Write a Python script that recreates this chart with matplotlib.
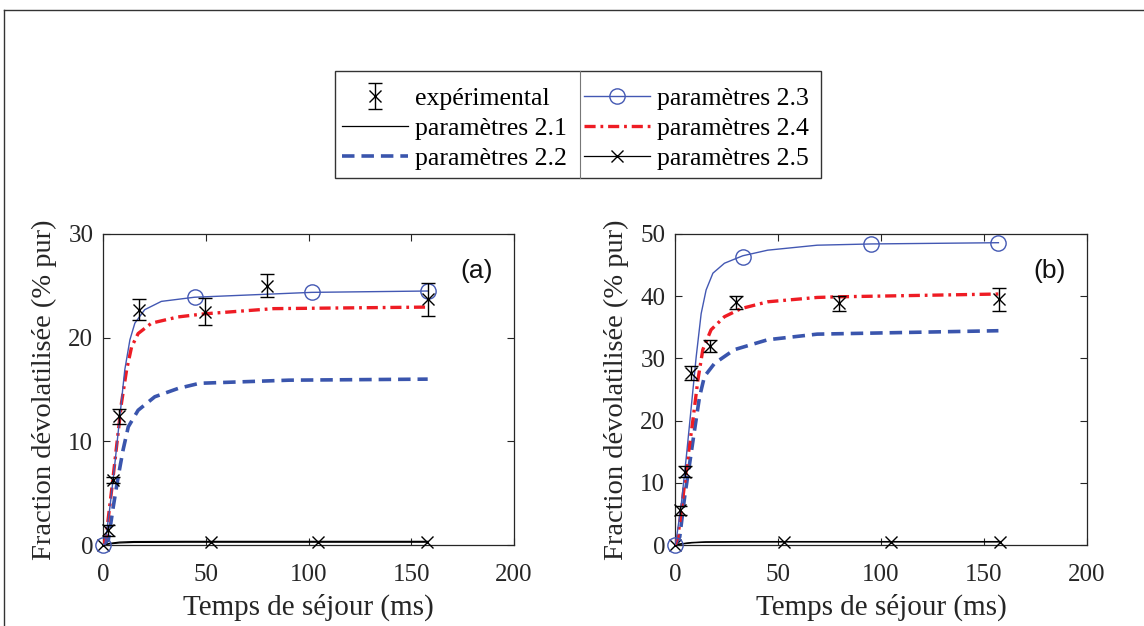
import matplotlib
matplotlib.use("Agg")
import matplotlib.pyplot as plt
from matplotlib.lines import Line2D
from matplotlib.patches import Rectangle

plt.rcParams['font.family'] = ['Liberation Serif', 'DejaVu Serif']
plt.rcParams['lines.scale_dashes'] = False

W, H = 1144, 626

# ---------------- data : panel (a) ----------------
a_exp_t = [2.6, 5.0, 7.9, 17.6, 49.4, 79.7, 158.3]
a_exp_y = [1.4, 6.3, 12.4, 22.7, 22.5, 25.0, 23.7]
a_exp_e = [0.5, 0.3, 0.7, 1.0, 1.3, 1.1, 1.6]

a21_t = [0, 3, 8, 15, 40, 100, 158]
a21_y = [0, 0.15, 0.28, 0.33, 0.35, 0.35, 0.35]

a22_t = [0, 2.6, 5.0, 7.4, 9.8, 12.3, 17.1, 25.2, 36.5, 47, 90.5, 158]
a22_y = [0, 0.5, 3.7, 6.6, 9.2, 11.4, 13.0, 14.3, 15.1, 15.6, 15.9, 16.0]

a23_t = [0, 1, 3.4, 5.8, 8.2, 10.6, 13.1, 15.5, 20.3, 28.4, 44.5, 101.5, 158]
a23_y = [0, 0.16, 3.7, 7.9, 12.4, 16.9, 19.8, 21.4, 22.7, 23.5, 23.9, 24.37, 24.5]
a23_mt = [0, 45, 101.5, 158]
a23_my = [0, 23.95, 24.37, 24.5]

a24_t = [0, 1.5, 4.2, 6.6, 9.0, 11.5, 13.9, 17.1, 23.6, 36.5, 49.4, 83, 158]
a24_y = [0, 0.8, 5.3, 9.5, 13.7, 16.9, 19.1, 20.4, 21.4, 22.0, 22.3, 22.8, 22.95]

a25_t = [0, 3, 8, 15, 40, 100, 158]
a25_y = [0, 0.1, 0.2, 0.25, 0.27, 0.27, 0.27]
a25_mt = [0, 52.6, 104.6, 157.8]
a25_my = [0, 0.27, 0.27, 0.27]

# ---------------- data : panel (b) ----------------
b_exp_t = [2.4, 4.8, 8.0, 17.2, 29.8, 79.4, 157.3]
b_exp_y = [5.6, 11.8, 27.6, 32.0, 39.0, 38.9, 39.5]
b_exp_e = [0.7, 0.9, 1.1, 0.9, 1.0, 1.2, 1.85]

b21_t = [0, 3, 8, 15, 30, 60, 100, 158]
b21_y = [0, 0.2, 0.4, 0.5, 0.55, 0.55, 0.55, 0.55]

b22_t = [0, 2.3, 4.7, 7.1, 9.5, 11.9, 14.3, 19.2, 28.8, 45, 69, 157]
b22_y = [0, 1.3, 7.8, 13.1, 18.5, 23.8, 27.1, 29.2, 31.4, 33.0, 33.9, 34.45]

b23_t = [0, 0.6, 3.1, 5.5, 7.9, 10.3, 12.7, 15.1, 18.4, 24, 32.9, 45, 69, 95.3, 157]
b23_y = [0, 0.8, 6.7, 14.2, 22.2, 30.3, 37.2, 41.0, 43.7, 45.3, 46.5, 47.4, 48.2, 48.4, 48.6]
b23_mt = [0, 33, 95.3, 157]
b23_my = [0, 46.3, 48.4, 48.6]

b24_t = [0, 1.4, 3.9, 6.3, 8.7, 11.1, 13.5, 17.5, 24, 32, 45, 69, 79, 157]
b24_y = [0, 1.3, 7.8, 14.2, 20.1, 26.5, 31.4, 34.6, 36.7, 38.0, 39.1, 39.8, 39.9, 40.35]

b25_t = [0, 3, 8, 15, 30, 60, 100, 158]
b25_y = [0, 0.15, 0.35, 0.45, 0.48, 0.5, 0.5, 0.5]
b25_mt = [0, 52.7, 105, 157.7]
b25_my = [0, 0.5, 0.5, 0.5]

x_ticks = [0, 50, 100, 150, 200]
a_yticks = [0, 10, 20, 30]
b_yticks = [0, 10, 20, 30, 40, 50]

labels = ['expérimental', 'paramètres 2.1', 'paramètres 2.2',
          'paramètres 2.3', 'paramètres 2.4', 'paramètres 2.5']
xlabel = 'Temps de séjour (ms)'
ylabel = 'Fraction dévolatilisée (% pur)'

# ---------------- styles ----------------
BLUE = '#4358b3'
BLUE_D = '#3a55ad'
RED = '#ee1c24'
DASH = (0, (9, 5))
DASHDOT = (0, (8, 3.5, 2, 3.5))

fig = plt.figure(figsize=(W / 100, H / 100), dpi=100)


def fx(px):
    return px / W


def fy(py):
    return 1 - py / H


def draw(ax, et, ey, ee, t21, y21, t22, y22, t23, y23, mt23, my23,
         t24, y24, t25, y25, mt25, my25, yticks, tag):
    ax.plot(t21, y21, color='k', lw=0.9)
    ax.plot(t25, y25, color='k', lw=0.9)
    ax.plot(mt25, my25, ls='none', marker='x', color='k', ms=8, mew=1, clip_on=False)
    ax.plot(t22, y22, color=BLUE_D, lw=2.6, linestyle=DASH)
    ax.plot(t24, y24, color=RED, lw=2.4, linestyle=DASHDOT)
    ax.plot(t23, y23, color=BLUE, lw=1.0)
    ax.plot(mt23, my23, ls='none', marker='o', ms=11, mfc='none', mec=BLUE,
            mew=1.0, clip_on=False)
    eb = ax.errorbar(et, ey, yerr=ee, fmt='x', color='k', ms=8, mew=1,
                     elinewidth=1, capsize=5, capthick=1)
    for art in eb.lines[0:1]:
        art.set_clip_on(False)
    ax.set_xlim(0, 200)
    ax.set_ylim(yticks[0], yticks[-1])
    ax.set_xticks(x_ticks)
    ax.set_yticks(yticks)
    ax.tick_params(direction='in', length=5, width=0.8, top=True, right=True,
                   labelsize=18, colors='#262626', pad=7)
    ax.tick_params(axis='x', pad=14)
    for s in ax.spines.values():
        s.set_color('#262626')
        s.set_linewidth(0.9)
        s.set_zorder(0.5)
    ax.set_xlabel(xlabel, fontsize=21, color='#262626', labelpad=5)
    ax.set_ylabel(ylabel, fontsize=20.5, color='#262626', labelpad=8)
    ax.text(0.91, 0.882, tag, transform=ax.transAxes, fontsize=19,
            family='Liberation Sans', ha='center', va='center', color='#111111')


ax_a = fig.add_axes([fx(103), fy(545), 411 / W, 311 / H])
ax_b = fig.add_axes([fx(675), fy(545), 412 / W, 311 / H])

draw(ax_a, a_exp_t, a_exp_y, a_exp_e, a21_t, a21_y, a22_t, a22_y, a23_t, a23_y,
     a23_mt, a23_my, a24_t, a24_y, a25_t, a25_y, a25_mt, a25_my, a_yticks, '(a)')
draw(ax_b, b_exp_t, b_exp_y, b_exp_e, b21_t, b21_y, b22_t, b22_y, b23_t, b23_y,
     b23_mt, b23_my, b24_t, b24_y, b25_t, b25_y, b25_mt, b25_my, b_yticks, '(b)')

# ---------------- legend ----------------
h_exp = ax_a.containers[0]
h21 = Line2D([], [], color='k', lw=0.9)
h22 = Line2D([], [], color=BLUE_D, lw=2.6, linestyle=DASH)
h23 = Line2D([], [], color=BLUE, lw=1.0, marker='o', ms=11, mfc='none', mec=BLUE)
h24 = Line2D([], [], color=RED, lw=2.4, linestyle=DASHDOT)
h25 = Line2D([], [], color='k', lw=0.9, marker='x', ms=8, mew=1)

common = dict(loc='upper left', frameon=False, fontsize=18.5, handlelength=2.55,
              handletextpad=0.3, labelspacing=0.28, borderpad=0.0,
              borderaxespad=0.0)
leg1 = fig.legend([h_exp, h21, h22], labels[:3],
                  bbox_to_anchor=(fx(342), fy(87)), **common)
leg2 = fig.legend([h23, h24, h25], labels[3:],
                  bbox_to_anchor=(fx(584), fy(87)), **common)

fig.add_artist(Rectangle((fx(335), fy(178)), (821 - 335) / W, (178 - 71) / H,
                         transform=fig.transFigure, fill=False,
                         edgecolor='#333333', lw=1.0))
fig.add_artist(Line2D([fx(580), fx(580)], [fy(71), fy(178)],
                      transform=fig.transFigure, color='#777777', lw=0.8))

# figure frame (top and left border)
fig.add_artist(Line2D([fx(4), 1], [fy(10), fy(10)], transform=fig.transFigure,
                      color='#333333', lw=1.0))
fig.add_artist(Line2D([fx(4), fx(4)], [fy(10), 0], transform=fig.transFigure,
                      color='#333333', lw=1.0))

fig.savefig('out.png', dpi=100)
